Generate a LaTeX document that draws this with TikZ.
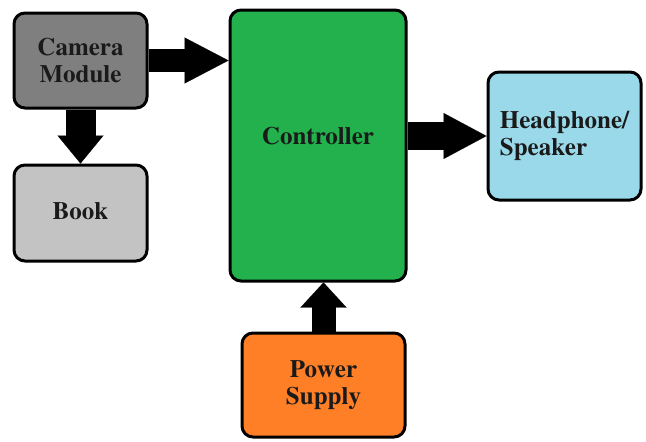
\documentclass[tikz,border=0pt]{standalone}
\usepackage[T1]{fontenc}
\usepackage{times}
\usetikzlibrary{positioning,arrows.meta}
\definecolor{camgray}{HTML}{7F7F7F}
\definecolor{bookgray}{HTML}{C3C3C3}
\definecolor{ctrlgreen}{HTML}{22B14C}
\definecolor{hpblue}{HTML}{99D9EA}
\definecolor{pworange}{HTML}{FF7F27}
\definecolor{labeltext}{HTML}{1A1A1A}
\tikzset{
block/.style={
  rectangle,
  draw=black,
  line width=3pt,
  rounded corners=11pt,
  align=left,
  text=labeltext,
  font=\fontsize{25}{27}\selectfont\bfseries,
  inner sep=0pt
  },
fatarrow/.style 2 args={
  draw=black,
  line width=#1,
  -{Triangle[length=#2,width=46pt,line width=0.1pt]}
  }
}

\begin{document}
\begin{tikzpicture}[x=1pt,y=-1pt]
\useasboundingbox (0,0) rectangle (646,442);

\node[block,fill=camgray,minimum width=133pt,minimum height=95pt,align=center] at (80.5,60.5) (cam) {Camera\\Module};
\node[block,fill=bookgray,minimum width=133pt,minimum height=96pt,below=54pt of cam,text depth=5pt] (book) {Book};
\node[block,fill=ctrlgreen,minimum width=176pt,minimum height=271pt,text depth=20pt] at (318,145.5) (ctrl) {Controller};
\node[block,fill=hpblue,minimum width=153pt,minimum height=128pt] at (564.5,136) (hp) {Headphone/\\Speaker};
\node[block,fill=pworange,minimum width=163pt,minimum height=104pt,align=center] at (323.5,385) (pwr) {Power\\Supply};

% block arrows between the modules
\draw[fatarrow={23pt}{44pt}] (cam.east) -- (cam.east -| ctrl.west);
\draw[fatarrow={30pt}{28pt}] (cam.south) -- (book.north);
\draw[fatarrow={28pt}{43pt}] (ctrl.east |- hp.west) -- (hp.west);
\draw[fatarrow={24pt}{25pt}] (pwr.north) -- (pwr.north |- ctrl.south);

\end{tikzpicture}
\end{document}
